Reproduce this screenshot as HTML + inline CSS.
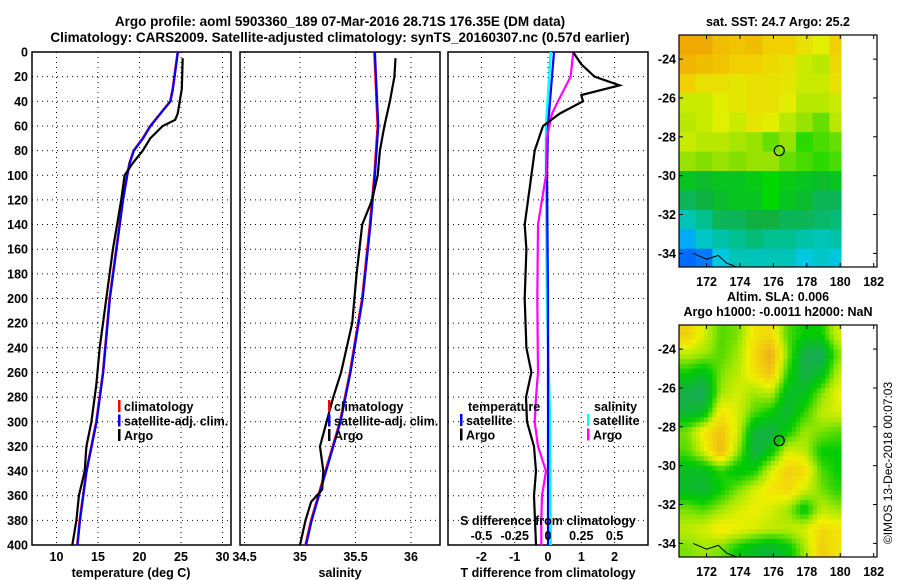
<!DOCTYPE html>
<html><head><meta charset="utf-8"><style>
body{margin:0;background:#fff}
svg{display:block;font-family:"Liberation Sans",sans-serif;font-weight:bold}
</style></head><body>
<svg id="c" width="900" height="580" viewBox="0 0 900 580">
<text x="340" y="26" font-size="13.5" text-anchor="middle">Argo profile: aoml 5903360_189 07-Mar-2016 28.71S 176.35E (DM data)</text>
<text x="340" y="42" font-size="13.5" text-anchor="middle">Climatology: CARS2009. Satellite-adjusted climatology: synTS_20160307.nc (0.57d earlier)</text>
</svg>
<script>
const depthTicks=[0,20,40,60,80,100,120,140,160,180,200,220,240,260,280,300,320,340,360,380,400];
const tTicks=[10,15,20,25,30];
const sTicks=[34.5,35,35.5,36];
const dTTicks=[-2,-1,0,1,2];
const dSTicks=[-0.5,-0.25,0,0.25,0.5];
const dSTickLabels=['-0.5','-0.25','0','0.25','0.5'];
const climTDepth=[0,30,40,50,60,70,80,90,100,120,140,200,260,300,340,380,400];
const climT=[24.6,24.0,23.7,22.5,21.3,20.4,19.3,18.8,18.5,18.0,17.6,16.4,15.6,14.8,13.6,12.8,12.5];
const argoTDepth=[5,30,50,55,60,70,80,90,100,120,140,160,200,240,270,300,320,340,360,380,400];
const argoT=[25.2,25.1,24.6,24.3,22.8,21.3,20.4,19.2,18.2,17.8,17.3,16.8,16.0,15.2,14.8,14.2,13.6,13.4,12.7,12.4,11.9];
const climSDepth=[0,20,60,100,140,200,260,300,340,380,400];
const climS=[35.67,35.68,35.70,35.67,35.63,35.56,35.45,35.36,35.23,35.10,35.05];
const argoSDepth=[5,20,40,60,80,100,120,140,180,220,260,280,300,320,340,355,365,380,400];
const argoS=[35.86,35.85,35.81,35.76,35.72,35.70,35.65,35.56,35.51,35.47,35.37,35.30,35.24,35.18,35.21,35.20,35.10,35.05,35.0];
const dDepth=[0,10,20,27,35,40,50,60,80,100,140,160,200,240,260,280,300,320,340,360,380,400];
const dTArgo=[0.75,1.0,1.4,2.15,1.0,1.05,0.35,-0.15,-0.4,-0.5,-0.7,-0.65,-0.7,-0.65,-0.5,-0.66,-0.63,-0.42,-0.36,-0.42,-0.39,-0.36];
const dSDepth=[0,20,40,50,70,100,140,200,260,280,300,320,340,360,380,400];
const dSArgo=[0.19,0.17,0.075,0.03,-0.01,-0.015,-0.075,-0.08,-0.075,-0.09,-0.1,-0.075,-0.015,-0.045,-0.05,-0.05];
const satDepth=[0,20,60,100,200,300,400];
const dTSat=[0.18,0.12,0.0,-0.03,0.0,0.0,0.0];
const dSSat=[0.02,0.01,-0.015,-0.015,-0.008,0.015,0.02];
const lonTicks=[172,174,176,178,180,182];
const latTicks=[-24,-26,-28,-30,-32,-34];
const sst=[
[0.95,0.95,0.9,0.88,0.9,0.85,0.85,0.8,0.75,0.85],
[0.92,0.9,0.88,0.85,0.85,0.82,0.8,0.72,0.7,0.82],
[0.85,0.8,0.8,0.78,0.8,0.8,0.78,0.72,0.72,0.8],
[0.72,0.72,0.76,0.78,0.8,0.8,0.76,0.7,0.7,0.72],
[0.7,0.72,0.75,0.72,0.78,0.76,0.7,0.66,0.62,0.7],
[0.72,0.7,0.7,0.68,0.66,0.62,0.66,0.58,0.6,0.62],
[0.66,0.64,0.66,0.64,0.66,0.66,0.62,0.6,0.58,0.6],
[0.5,0.48,0.5,0.5,0.52,0.55,0.52,0.5,0.48,0.5],
[0.42,0.45,0.48,0.5,0.5,0.55,0.5,0.48,0.42,0.42],
[0.3,0.35,0.42,0.42,0.45,0.45,0.42,0.42,0.4,0.38],
[0.18,0.28,0.32,0.35,0.38,0.35,0.35,0.32,0.3,0.32],
[0.05,0.08,0.25,0.3,0.3,0.3,0.3,0.25,0.28,0.25]];
const sla=[
[0.8,0.6,0.4,0.45,0.7,0.75,0.4,0.3,0.3,0.6],
[0.55,0.5,0.4,0.5,0.75,0.95,0.45,0.1,0.05,0.45],
[0.3,0.2,0.45,0.55,0.7,0.85,0.35,0.1,0.2,0.55],
[0.1,0.05,0.5,0.6,0.5,0.55,0.2,0.2,0.45,0.65],
[0.15,0.2,0.7,0.6,0.4,0.3,0.15,0.35,0.55,0.6],
[0.45,0.7,0.85,0.6,0.15,0.1,0.3,0.5,0.45,0.4],
[0.4,0.6,0.9,0.5,0.1,0.25,0.6,0.55,0.3,0.3],
[0.2,0.2,0.35,0.25,0.3,0.6,0.8,0.75,0.4,0.3],
[0.2,0.15,0.3,0.45,0.6,0.7,0.75,0.6,0.45,0.35],
[0.45,0.4,0.5,0.6,0.65,0.6,0.5,0.25,0.55,0.5],
[0.55,0.6,0.7,0.65,0.6,0.55,0.55,0.6,0.75,0.7],
[0.45,0.5,0.45,0.3,0.2,0.15,0.25,0.5,0.8,0.7]];

const S=document.getElementById('c'),NS='http://www.w3.org/2000/svg';
function el(t,a,txt){const e=document.createElementNS(NS,t);for(const k in a)e.setAttribute(k,a[k]);if(txt!==undefined)e.textContent=txt;S.appendChild(e);return e;}
const pTop=52,pBot=545;
const yD=d=>pTop+(pBot-pTop)*d/400;
function panel(x0,x1,name){
  const r=el('rect',{x:x0,y:pTop,width:x1-x0,height:pBot-pTop,fill:'none',stroke:'#000','stroke-width':1.5});
  
  
  depthTicks.forEach(d=>{if(d>0&&d<400){const g=el('line',{x1:x0,x2:x1,y1:yD(d),y2:yD(d),stroke:'#000','stroke-dasharray':'1 4'});}});
}
function vgrid(x,name){const g=el('line',{x1:x,x2:x,y1:pTop,y2:pBot,stroke:'#000','stroke-dasharray':'1 4'});}
function line(xs,ds,fx,color,w,name){
  const p=xs.map((v,i)=>fx(v).toFixed(1)+','+yD(ds[i]).toFixed(1)).join(' ');
  const e=el('polyline',{points:p,fill:'none',stroke:color,'stroke-width':w});
  
  
}
// panel 1
const xT=v=>56.5+(v-10)*8.3;
panel(32,231,'temperature-panel');
tTicks.forEach(t=>{vgrid(xT(t),'temperature-gridline');const l=el('text',{x:xT(t),y:561,'font-size':12.5,'text-anchor':'middle'},String(t));});
depthTicks.forEach(d=>{const l=el('text',{x:28,y:yD(d)+4.5,'font-size':12.5,'text-anchor':'end'},String(d));});
line(climT,climTDepth,xT,'#f00',2.5,'temperature-climatology-line');
line(climT.map(v=>v+0.03),climTDepth,xT,'#00f',2.2,'temperature-satellite-adj-line');
line(argoT,argoTDepth,xT,'#000',2.2,'temperature-argo-line');
let t=el('text',{x:131,y:577,'font-size':12.5,'text-anchor':'middle'},'temperature (deg C)');
// panel 2
const xS=v=>300+(v-35)*111;
panel(240,440,'salinity-panel');
sTicks.forEach(s=>{vgrid(xS(s),'salinity-gridline');const l=el('text',{x:xS(s),y:561,'font-size':12.5,'text-anchor':'middle'},String(s));});
line(climS,climSDepth,xS,'#f00',2.5,'salinity-climatology-line');
line(climS.map(v=>v+0.005),climSDepth,xS,'#00f',2.2,'salinity-satellite-adj-line');
line(argoS,argoSDepth,xS,'#000',2.2,'salinity-argo-line');
t=el('text',{x:340,y:577,'font-size':12.5,'text-anchor':'middle'},'salinity');
// legends 1&2
function legend(x,items,prefix){items.forEach((it,i)=>{const y=407+i*14.5;const m=el('rect',{x:x,y:y-7,width:2.5,height:12,fill:it[1]});const l=el('text',{x:x+6,y:y+4,'font-size':12.5},it[0]);});}
legend(118,[['climatology','#f00'],['satellite-adj. clim.','#00f'],['Argo','#000']],'temperature');
legend(328,[['climatology','#f00'],['satellite-adj. clim.','#00f'],['Argo','#000']],'salinity');
// panel 3
const xDT=v=>548+v*33.3, xDS=v=>548+v*133.2;
panel(448,648,'difference-panel');
dTTicks.forEach(v=>{vgrid(xDT(v),'difference-gridline');const l=el('text',{x:xDT(v),y:561,'font-size':12.5,'text-anchor':'middle'},String(v));});
line(dSSat,satDepth,xDS,'#0ff',2.5,'salinity-satellite-diff-line');
line(dTSat,satDepth,xDT,'#00f',2.2,'temperature-satellite-diff-line');
line(dSArgo,dSDepth,xDS,'#f0f',2.2,'salinity-argo-diff-line');
line(dTArgo,dDepth,xDT,'#000',2.2,'temperature-argo-diff-line');
dSTicks.forEach((v,i)=>{const l=el('text',{x:xDS(v),y:540,'font-size':12.5,'text-anchor':'middle'},dSTickLabels[i]);});
t=el('text',{x:548,y:525,'font-size':12.5,'text-anchor':'middle'},'S difference from climatology');
t=el('text',{x:548,y:577,'font-size':12.5,'text-anchor':'middle'},'T difference from climatology');
t=el('text',{x:468,y:411,'font-size':12.5},'temperature');
t=el('text',{x:594,y:411,'font-size':12.5},'salinity');
[['satellite','#00f',460],['Argo','#000',460],['satellite','#0ff',587],['Argo','#f0f',587]].forEach((it,i)=>{const y=421+(i%2)*14.5;const m=el('rect',{x:it[2],y:y-7,width:2.5,height:12,fill:it[1]});const l=el('text',{x:it[2]+6,y:y+4,'font-size':12.5},it[0]);});
// maps
const mx0=679,mx1=877,lon0=170.35,lon1=182.2;
const xLon=v=>mx0+(v-lon0)*(mx1-mx0)/(lon1-lon0);
function lerpC(stops,v){v=Math.max(0,Math.min(1,v));for(let i=1;i<stops.length;i++){if(v<=stops[i][0]){const a=stops[i-1],b=stops[i],f=(v-a[0])/(b[0]-a[0]);const c=[0,1,2].map(k=>Math.round(a[1][k]+(b[1][k]-a[1][k])*f));return 'rgb('+c+')';}}return 'rgb('+stops[stops.length-1][1]+')';}
const sstStops=[[0,[0,80,255]],[0.15,[0,160,255]],[0.25,[0,200,224]],[0.35,[0,192,144]],[0.45,[16,176,64]],[0.55,[0,216,0]],[0.65,[144,224,0]],[0.75,[224,240,0]],[0.85,[240,208,0]],[1,[240,150,0]]];
const slaStops=[[0,[32,160,112]],[0.3,[0,204,0]],[0.5,[160,232,0]],[0.65,[240,240,0]],[1,[240,160,32]]];
function sample(grid,r,c){ // bilinear on cell centres
  const R=grid.length,C=grid[0].length;
  r=Math.max(0,Math.min(R-1,r));c=Math.max(0,Math.min(C-1,c));
  const r0=Math.floor(r),c0=Math.floor(c),r1=Math.min(R-1,r0+1),c1=Math.min(C-1,c0+1),fr=r-r0,fc=c-c0;
  return grid[r0][c0]*(1-fr)*(1-fc)+grid[r0][c1]*(1-fr)*fc+grid[r1][c0]*fr*(1-fc)+grid[r1][c1]*fr*fc;
}
function drawMap(y0,y1,grid,stops,prefix,sub){
  const lat0=-22.76,lat1=-34.7;const yLat=v=>y0+(v-lat0)*(y1-y0)/(lat1-lat0);
  const step=1/sub;
  for(let r=0;r<grid.length*sub;r++)for(let c=0;c<grid[0].length*sub;c++){
    const gr=(r+0.5)*step-0.5,gc=(c+0.5)*step-0.5;
    const v=sub>1?sample(grid,gr,gc):grid[r][c];
    const la=lat0-r*step,lo=lon0+c*step;
    if(lo>=180)continue;
    const x=xLon(lo),xe=Math.min(xLon(lo+step),xLon(180.05));const y=yLat(la),ye=Math.min(yLat(la-step),y1);
    const e=el('rect',{x:x,y:y,width:xe-x+0.5,height:ye-y+0.5,fill:lerpC(stops,v)});
    
    
  }
  const b=el('rect',{x:mx0,y:y0,width:mx1-mx0,height:y1-y0,fill:'none',stroke:'#000','stroke-width':1.2});
  
  lonTicks.forEach(v=>{el('line',{x1:xLon(v),x2:xLon(v),y1:y1,y2:y1-4,stroke:'#000'});el('line',{x1:xLon(v),x2:xLon(v),y1:y0,y2:y0+4,stroke:'#000'});const l=el('text',{x:xLon(v),y:y1+19,'font-size':12.5,'text-anchor':'middle'},String(v));});
  latTicks.forEach(v=>{el('line',{x1:mx0,x2:mx0+4,y1:yLat(v),y2:yLat(v),stroke:'#000'});el('line',{x1:mx1,x2:mx1-4,y1:yLat(v),y2:yLat(v),stroke:'#000'});const l=el('text',{x:676,y:yLat(v)+4.5,'font-size':12.5,'text-anchor':'end'},String(v));});
  const c=el('circle',{cx:xLon(176.35),cy:yLat(-28.71),r:5,fill:'none',stroke:'#000','stroke-width':1.2});
  
  const k=el('polyline',{points:`${xLon(171.2)},${yLat(-34)} ${xLon(172)},${yLat(-34.3)} ${xLon(172.7)},${yLat(-34.1)} ${xLon(173.2)},${yLat(-34.5)} ${xLon(173.8)},${yLat(-34.7)}`,fill:'none',stroke:'#000'});
  
}
drawMap(35,267,sst,sstStops,'sst',1);
drawMap(325,557,sla,slaStops,'sla',4);
t=el('text',{x:778,y:26,'font-size':12.5,'text-anchor':'middle'},'sat. SST: 24.7 Argo: 25.2');
t=el('text',{x:778,y:301,'font-size':12.5,'text-anchor':'middle'},'Altim. SLA: 0.006');
t=el('text',{x:778,y:316,'font-size':12.5,'text-anchor':'middle'},'Argo h1000: -0.0011 h2000: NaN');
t=el('text',{x:892,y:463,'font-size':12,'font-weight':'normal','text-anchor':'middle',transform:'rotate(-90 892 463)'},'©IMOS 13-Dec-2018 00:07:03');
</script>
</body></html>
